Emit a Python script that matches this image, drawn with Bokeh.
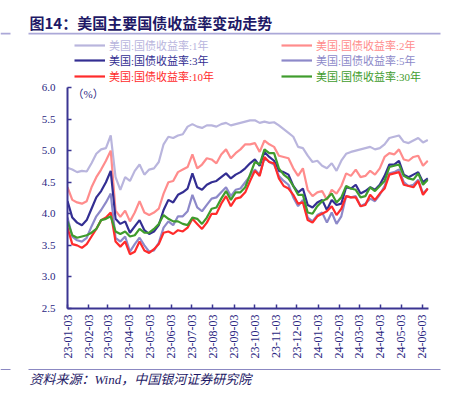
import pandas as pd
from bokeh.plotting import figure
from bokeh.layouts import column
from bokeh.models import (Range1d, FixedTicker, NumeralTickFormatter, DatetimeTickFormatter,
                          Legend, LegendItem, Label, BoxAnnotation, ColumnDataSource)
from bokeh.embed import file_html
from bokeh.resources import INLINE
import math

# ---- data (weekly readings, %) ----
dates = pd.date_range("2023-01-03", periods=76, freq="7D")

y1 = [4.73, 4.70, 4.66, 4.68, 4.67, 4.80, 4.95, 5.02, 5.04, 5.24,
      4.58, 4.38, 4.58, 4.52, 4.68, 4.78, 4.62, 4.70, 4.72, 4.82,
      5.10, 5.22, 5.20, 5.24, 5.26, 5.38, 5.42, 5.38, 5.36, 5.40,
      5.40, 5.38, 5.42, 5.44, 5.40, 5.42, 5.44, 5.46, 5.48, 5.48,
      5.44, 5.46, 5.44, 5.45, 5.40, 5.34, 5.28, 5.22, 5.06, 5.04,
      4.92, 4.82, 4.84, 4.76, 4.72, 4.80, 4.68, 4.84, 4.95, 4.98,
      5.00, 5.02, 5.04, 5.06, 5.02, 5.04, 5.10, 5.20, 5.22, 5.24,
      5.14, 5.12, 5.16, 5.20, 5.13, 5.17]
y2 = [4.42, 4.22, 4.18, 4.16, 4.20, 4.42, 4.58, 4.70, 4.84, 5.00,
      4.05, 3.95, 4.05, 3.88, 4.02, 4.20, 4.02, 3.98, 4.02, 4.08,
      4.32, 4.50, 4.52, 4.66, 4.70, 4.74, 4.94, 4.72, 4.78, 4.88,
      4.86, 4.80, 4.94, 5.02, 4.88, 4.96, 5.02, 5.10, 5.10, 5.12,
      4.98, 5.16, 5.10, 5.06, 4.92, 4.90, 4.88, 4.72, 4.60, 4.72,
      4.38, 4.28, 4.34, 4.36, 4.22, 4.38, 4.32, 4.44, 4.64, 4.60,
      4.70, 4.58, 4.60, 4.68, 4.62, 4.72, 4.90, 4.96, 4.94, 5.02,
      4.86, 4.84, 4.90, 4.92, 4.76, 4.84]
y3 = [4.20, 3.94, 3.86, 3.82, 3.90, 4.08, 4.26, 4.36, 4.50, 4.68,
      3.92, 3.84, 3.88, 3.70, 3.80, 3.90, 3.74, 3.68, 3.72, 3.82,
      4.06, 4.22, 4.18, 4.30, 4.34, 4.40, 4.64, 4.42, 4.38, 4.46,
      4.50, 4.52, 4.58, 4.64, 4.56, 4.62, 4.66, 4.72, 4.80, 4.86,
      4.76, 4.98, 4.90, 4.84, 4.68, 4.66, 4.62, 4.44, 4.34, 4.40,
      4.14, 4.10, 4.18, 4.22, 4.06, 4.22, 4.14, 4.16, 4.42, 4.40,
      4.46, 4.32, 4.36, 4.42, 4.38, 4.46, 4.60, 4.78, 4.78, 4.84,
      4.62, 4.58, 4.62, 4.66, 4.50, 4.56]
y5 = [3.94, 3.64, 3.58, 3.56, 3.62, 3.80, 3.96, 4.06, 4.18, 4.32,
      3.62, 3.56, 3.64, 3.40, 3.52, 3.62, 3.50, 3.40, 3.42, 3.54,
      3.78, 3.88, 3.82, 3.96, 3.96, 4.04, 4.30, 4.10, 4.04, 4.14,
      4.24, 4.26, 4.34, 4.42, 4.28, 4.38, 4.40, 4.50, 4.60, 4.70,
      4.62, 4.88, 4.82, 4.78, 4.60, 4.52, 4.46, 4.26, 4.12, 4.22,
      3.94, 3.88, 3.98, 4.02, 3.86, 4.02, 3.84, 3.96, 4.28, 4.26,
      4.28, 4.12, 4.16, 4.24, 4.20, 4.30, 4.44, 4.64, 4.66, 4.70,
      4.50, 4.44, 4.46, 4.54, 4.32, 4.40]
y10 = [3.78, 3.52, 3.50, 3.46, 3.52, 3.64, 3.76, 3.90, 3.94, 4.02,
       3.56, 3.48, 3.56, 3.36, 3.40, 3.56, 3.42, 3.38, 3.44, 3.52,
       3.70, 3.72, 3.68, 3.74, 3.72, 3.78, 3.92, 3.84, 3.76, 3.86,
       4.00, 4.00, 4.16, 4.28, 4.12, 4.24, 4.26, 4.34, 4.52, 4.68,
       4.60, 4.90, 4.82, 4.80, 4.56, 4.44, 4.40, 4.30, 4.16, 4.18,
       3.90, 3.86, 3.96, 4.00, 4.04, 4.12, 3.98, 4.08, 4.28, 4.26,
       4.26, 4.12, 4.14, 4.30, 4.22, 4.32, 4.40, 4.62, 4.64, 4.66,
       4.46, 4.44, 4.42, 4.52, 4.30, 4.40]
y30 = [3.88, 3.66, 3.62, 3.64, 3.66, 3.70, 3.76, 3.90, 3.92, 3.96,
       3.72, 3.68, 3.72, 3.64, 3.66, 3.76, 3.70, 3.70, 3.76, 3.84,
       3.98, 3.92, 3.88, 3.88, 3.84, 3.82, 3.94, 3.92, 3.84, 3.94,
       4.08, 4.10, 4.24, 4.36, 4.22, 4.34, 4.34, 4.42, 4.62, 4.82,
       4.78, 5.02, 4.96, 4.96, 4.72, 4.62, 4.56, 4.44, 4.30, 4.30,
       4.02, 4.00, 4.12, 4.20, 4.24, 4.32, 4.18, 4.26, 4.44, 4.40,
       4.38, 4.26, 4.28, 4.42, 4.36, 4.44, 4.52, 4.74, 4.76, 4.78,
       4.60, 4.56, 4.54, 4.64, 4.46, 4.54]

series_names = ["美国:国债收益率:1年", "美国:国债收益率:2年", "美国:国债收益率:3年",
                "美国:国债收益率:5年", "美国:国债收益率:10年", "美国:国债收益率:30年"]
series_colors = ["#B9B5DD", "#FF8C8C", "#332E92", "#8D89C9", "#FF2B2B", "#3F9C2D"]

x_ticks = ["2023-01-03", "2023-02-03", "2023-03-03", "2023-04-03", "2023-05-03",
           "2023-06-03", "2023-07-03", "2023-08-03", "2023-09-03", "2023-10-03",
           "2023-11-03", "2023-12-03", "2024-01-03", "2024-02-03", "2024-03-03",
           "2024-04-03", "2024-05-03", "2024-06-03"]
y_ticks = [2.5, 3.0, 3.5, 4.0, 4.5, 5.0, 5.5, 6.0]
x_start, x_end = "2023-01-03", "2024-06-12"

title_text = "图14：美国主要国债收益率变动走势"
unit_text = "（%）"
source_text = "资料来源：Wind，中国银河证券研究院"

serif_cjk = "'Liberation Serif', 'Noto Sans CJK SC'"
navy_txt = "#1E1966"
axis_col = "#3B3592"
lab_col = "#2B2782"
W = 449


def ms(d):
    return pd.Timestamp(d).value / 1e6


def no_align(f):
    if "frame_align" in f.properties():
        f.frame_align = False


def blank_fig(h):
    # a text strip whose data space is its own pixel grid (y downwards)
    f = figure(width=W, height=h, output_backend="svg", toolbar_location=None,
               x_range=Range1d(0, W), y_range=Range1d(h, 0),
               x_axis_type=None, y_axis_type=None, min_border=0)
    f.title.visible = False
    f.xgrid.visible = False
    f.ygrid.visible = False
    f.outline_line_color = None
    f.background_fill_color = "white"
    f.border_fill_color = "white"
    no_align(f)
    return f


def rule(f, x0, x1, y0, y1, color):
    f.add_layout(BoxAnnotation(left=x0, right=x1, top=y0, bottom=y1,
                               fill_color=color, fill_alpha=1, line_color=None))


# ---- header: title and rule ----
HH = 40
head = blank_fig(HH)
head.add_layout(Label(x=29, y=22, text=title_text, text_font="Noto Sans CJK SC",
                      text_font_style="bold", text_font_size="15px", text_color=navy_txt,
                      text_baseline="middle"))
rule(head, 28, 440, 32.2, 34, "#ABA8D8")
rule(head, 0, 10, 32.2, 34, "#ABA8D8")

# ---- main chart (frame reaches up to hold the legend; axis bounded to 2.5..6.0) ----
FRAME_H = 268          # page y 40 .. 308
AXIS_H = 221           # page y 87 .. 308 for 2.5 .. 6.0
y_top = y_ticks[0] + (y_ticks[-1] - y_ticks[0]) * FRAME_H / AXIS_H

src = ColumnDataSource(dict(date=dates, y1=y1, y2=y2, y3=y3, y5=y5, y10=y10, y30=y30))

p = figure(width=W, height=324, x_axis_type="datetime", output_backend="svg",
           toolbar_location=None, x_range=Range1d(ms(x_start), ms(x_end)),
           y_range=Range1d(y_ticks[0], y_top),
           min_border_left=67, min_border_right=21, min_border_top=0, min_border_bottom=56)
p.title.visible = False
p.xgrid.visible = False
p.ygrid.visible = False
p.outline_line_color = None
p.background_fill_color = "white"
p.border_fill_color = "white"
no_align(p)

for ax in (p.xaxis[0], p.yaxis[0]):
    ax.axis_line_color = axis_col
    ax.axis_line_width = 2
    ax.major_tick_line_color = axis_col
    ax.major_tick_line_width = 1.5
    ax.major_tick_in = 4
    ax.major_tick_out = 0
    ax.minor_tick_line_color = None
    ax.major_label_text_font = "'Liberation Serif', serif"
    ax.major_label_text_color = lab_col

p.yaxis.ticker = FixedTicker(ticks=y_ticks)
p.yaxis.bounds = (y_ticks[0], y_ticks[-1])
p.yaxis.formatter = NumeralTickFormatter(format="0.0")
p.yaxis.major_label_standoff = 12
p.yaxis.major_label_text_font_size = "11px"

p.xaxis.ticker = FixedTicker(ticks=[ms(d) for d in x_ticks])
fmt = "%y-%m-%d"
p.xaxis.formatter = DatetimeTickFormatter(days=fmt, months=fmt, years=fmt, hours=fmt,
                                          hourmin=fmt, minutes=fmt, minsec=fmt,
                                          seconds=fmt, milliseconds=fmt, microseconds=fmt)
p.xaxis.major_label_orientation = math.pi / 2
p.xaxis.major_label_standoff = 6
p.xaxis.major_label_text_font_size = "12px"

renderers = []
for c, col in zip(["y1", "y2", "y3", "y5", "y10", "y30"], series_colors):
    renderers.append(p.line(x="date", y=c, source=src, line_width=2.2, line_color=col))

# legends: 3 rows x 2 columns, text coloured like its line
row_bottom = [255, 240, 224]
col_x = [7, 214]
for i, (name, col, r) in enumerate(zip(series_names, series_colors, renderers)):
    lg = Legend(items=[LegendItem(label=name, renderers=[r])],
                location=(col_x[i % 2], row_bottom[i // 2]),
                orientation="horizontal", glyph_width=31, glyph_height=12,
                label_height=12, label_standoff=4, padding=0, margin=0, spacing=0,
                border_line_color=None, background_fill_alpha=0,
                label_text_color=col, label_text_font=serif_cjk,
                label_text_font_size="11px")
    p.add_layout(lg)

p.add_layout(Label(x=5, y=215, x_units="screen", y_units="screen", text=unit_text,
                   text_font=serif_cjk, text_font_size="11px", text_color=lab_col,
                   text_baseline="middle"))

# ---- footer: rule and source ----
FH = 31
foot = blank_fig(FH)
rule(foot, 28, 440, 4.5, 5.6, "#8B88C2")
rule(foot, 0, 10, 4.5, 5.6, "#8B88C2")
foot.add_layout(Label(x=29, y=15, text=source_text, text_font=serif_cjk,
                      text_font_style="italic", text_font_size="13px",
                      text_color=navy_txt, text_baseline="middle"))

layout = column(head, p, foot, spacing=0)
open("out.html", "w").write(file_html(layout, INLINE))
